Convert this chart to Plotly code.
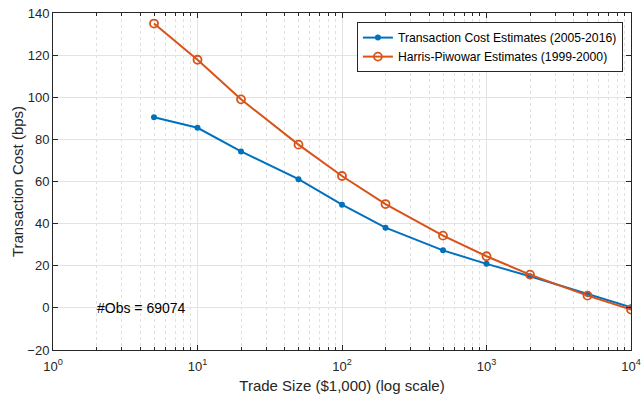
import plotly.graph_objects as go

trade_size = [5, 10, 20, 50, 100, 200, 500, 1000, 2000, 5000, 10000]
tc_estimates = [90.5, 85.5, 74.3, 61.1, 49.0, 38.1, 27.3, 20.9, 15.0, 6.6, 0.3]
hp_estimates = [135.0, 117.8, 99.0, 77.5, 62.6, 49.3, 34.3, 24.5, 15.8, 5.8, -0.8]

x_tick_vals = [1, 10, 100, 1000, 10000]
x_tick_text = ["10<sup>0</sup>", "10<sup>1</sup>", "10<sup>2</sup>", "10<sup>3</sup>", "10<sup>4</sup>"]
x_minor_vals = [m * d for d in [1, 10, 100, 1000] for m in range(2, 10)]
y_tick_vals = [-20, 0, 20, 40, 60, 80, 100, 120, 140]

blue = "#0072BD"
orange = "#D95319"
font_family = "Liberation Sans, Arial, sans-serif"

fig = go.Figure()
fig.add_trace(go.Scatter(
    x=trade_size, y=tc_estimates, mode="lines+markers",
    name="Transaction Cost Estimates (2005-2016)",
    line=dict(color=blue, width=2),
    marker=dict(color=blue, size=6, symbol="circle"),
))
fig.add_trace(go.Scatter(
    x=trade_size, y=hp_estimates, mode="lines+markers",
    name="Harris-Piwowar Estimates (1999-2000)",
    line=dict(color=orange, width=2),
    marker=dict(color=orange, size=8, symbol="circle-open",
                line=dict(color=orange, width=1.8)),
))

fig.add_annotation(
    x=0.30103, y=0, xref="x", yref="y", text="#Obs = 69074",
    showarrow=False, xanchor="left", yanchor="middle", xshift=-2,
    font=dict(size=14, color="#000000", family=font_family),
)

fig.update_layout(
    width=643, height=395,
    margin=dict(l=53, r=12, t=13, b=45),
    paper_bgcolor="white", plot_bgcolor="white",
    font=dict(family=font_family, size=13, color="#262626"),
    showlegend=True,
    legend=dict(
        x=0.986, y=0.973, xanchor="right", yanchor="top",
        bgcolor="white", bordercolor="#262626", borderwidth=1,
        font=dict(size=12.2, color="#000000"),
        tracegroupgap=0, itemwidth=30,
    ),
)

fig.update_xaxes(
    type="log", range=[0, 4], automargin=False,
    tickvals=x_tick_vals, ticktext=x_tick_text,
    ticklabeloverflow="allow", ticklabelstandoff=4,
    ticks="inside", ticklen=5, tickcolor="#262626",
    showline=True, linecolor="#262626", linewidth=1, mirror="ticks",
    showgrid=True, gridcolor="#e3e3e3", gridwidth=1,
    minor=dict(tickmode="array", tickvals=x_minor_vals,
               ticks="inside", ticklen=3, tickcolor="#262626",
               showgrid=True, gridcolor="#e0e0e0", griddash="dot"),
    zeroline=False,
    title=dict(text="Trade Size ($1,000) (log scale)", standoff=7,
               font=dict(size=15, color="#262626")),
    tickfont=dict(size=13, color="#262626"),
)
fig.update_yaxes(
    range=[-20, 140], tickvals=y_tick_vals, automargin=False,
    ticklabeloverflow="allow",
    ticks="inside", ticklen=5, tickcolor="#262626",
    showline=True, linecolor="#262626", linewidth=1, mirror="ticks",
    showgrid=True, gridcolor="#e3e3e3", gridwidth=1,
    zeroline=False,
    title=dict(text="Transaction Cost (bps)", standoff=0,
               font=dict(size=15, color="#262626")),
    tickfont=dict(size=13, color="#262626"),
)

fig.write_html(
    "out.html",
    config={"displayModeBar": False},
    post_script="document.body.style.margin='0px';",
)
